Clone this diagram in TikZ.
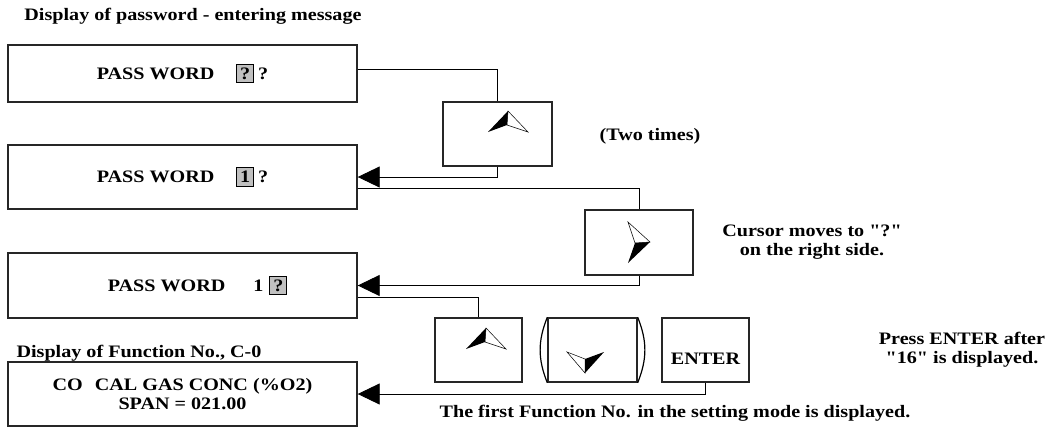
\documentclass[tikz,border=0pt]{standalone}
\usepackage{fontspec}
\setmainfont{Liberation Serif}[FakeStretch=1.15,Ligatures=TeXOff]
\usetikzlibrary{arrows.meta}
\definecolor{cellgray}{RGB}{192,192,192}
\newcommand{\curcell}[1]{{\setlength{\fboxsep}{3pt}\setlength{\fboxrule}{0.8pt}\fcolorbox{black}{cellgray}{#1}}}

\begin{document}
\begin{tikzpicture}[x=1pt,y=-1pt,
    every node/.style={font=\fontsize{17.5}{19}\selectfont\bfseries},
    dispbox/.style={draw=black!85,line width=1.4pt,minimum width=349pt,inner sep=0pt},
    keybox/.style={draw=black!85,line width=1.4pt,minimum height=64pt,inner sep=0pt},
    link/.style={line width=0.9pt},
    tolink/.style={line width=0.9pt,-{Triangle[length=22pt,width=21pt]}}]
  \useasboundingbox (0,0) rectangle (1049,439);
  % display boxes
  \node[dispbox,minimum height=57pt] (pw1) at (182.5,73.5) {PASS WORD\hspace{22pt}\curcell{?}\hspace{4pt}?};
  \node[dispbox,minimum height=64pt] (pw2) at (182.5,177) {PASS WORD\hspace{22pt}\curcell{1}\hspace{4pt}?};
  \node[dispbox,minimum height=65pt] (pw3) at (182.5,285.5) {\hspace*{30pt}PASS WORD\hspace{28pt}1\hspace{6pt}\curcell{?}};
  \node[dispbox,minimum height=64pt,align=center] (fn) at (182.5,394) {CO\hspace{12pt}CAL GAS CONC (\%O2)\\SPAN = 021.00};
  % key boxes
  \node[keybox,minimum width=109pt] (key1) at (497.5,134) {};
  \node[keybox,minimum width=108pt,minimum height=65pt] (key2) at (639,242.5) {};
  \node[keybox,minimum width=87pt] (key3) at (478.5,350) {};
  \node[keybox,minimum width=89pt] (key4) at (592.5,350) {};
  \node[keybox,minimum width=87pt,text height=28pt,text depth=0pt] (enter) at (705.5,350) {ENTER};
  \draw[line width=1.2pt] (key4.north west) to[bend right=22] (key4.south west);
  \draw[line width=1.2pt] (key4.north east) to[bend left=22] (key4.south east);
  % cursor keys
  \foreach \tx/\ty in {508/111, 486/328}{
    \fill (\tx,\ty) -- (\tx-20,\ty+21) -- (\tx-1,\ty+14) -- cycle;
    \draw[line width=0.5pt] (\tx,\ty) -- (\tx-1,\ty+14) -- (\tx+20,\ty+21) -- cycle;
  }
  \draw[line width=0.5pt] (628,222) -- (650,242) -- (635,243) -- cycle;
  \fill (628,263) -- (650,242) -- (635,243) -- cycle;
  \draw[line width=0.5pt] (567,352) -- (585,373) -- (585,359) -- cycle;
  \fill (585,359) -- (585,373) -- (604,352) -- cycle;
  % labels
  \node (title) at (193,16) {Display of password - entering message};
  \node (twice) at (650,136) {(Two times)};
  \node[align=center] (cursornote) at (812,242) {Cursor moves to "?"\\on the right side.};
  \node[align=center] (enternote) at (962,350) {Press ENTER after\\"16" is displayed.};
  \node (fnlabel) at (139,353) {Display of Function No., C-0};
  \node (result) at (675,413) {The first Function No. in the setting mode is displayed.};
  % connectors
  \draw[link] ([yshift=4.5pt]pw1.east) -| (key1.north);
  \draw[tolink] (key1.south) |- (pw2.east);
  \draw[link] ([yshift=-11pt]pw2.east) -| (key2.north);
  \draw[tolink] (key2.south) |- (pw3.east);
  \draw[link] ([yshift=-11.5pt]pw3.east) -| (key3.north);
  \draw[tolink] (enter.south) |- (fn.east);
\end{tikzpicture}
\end{document}
